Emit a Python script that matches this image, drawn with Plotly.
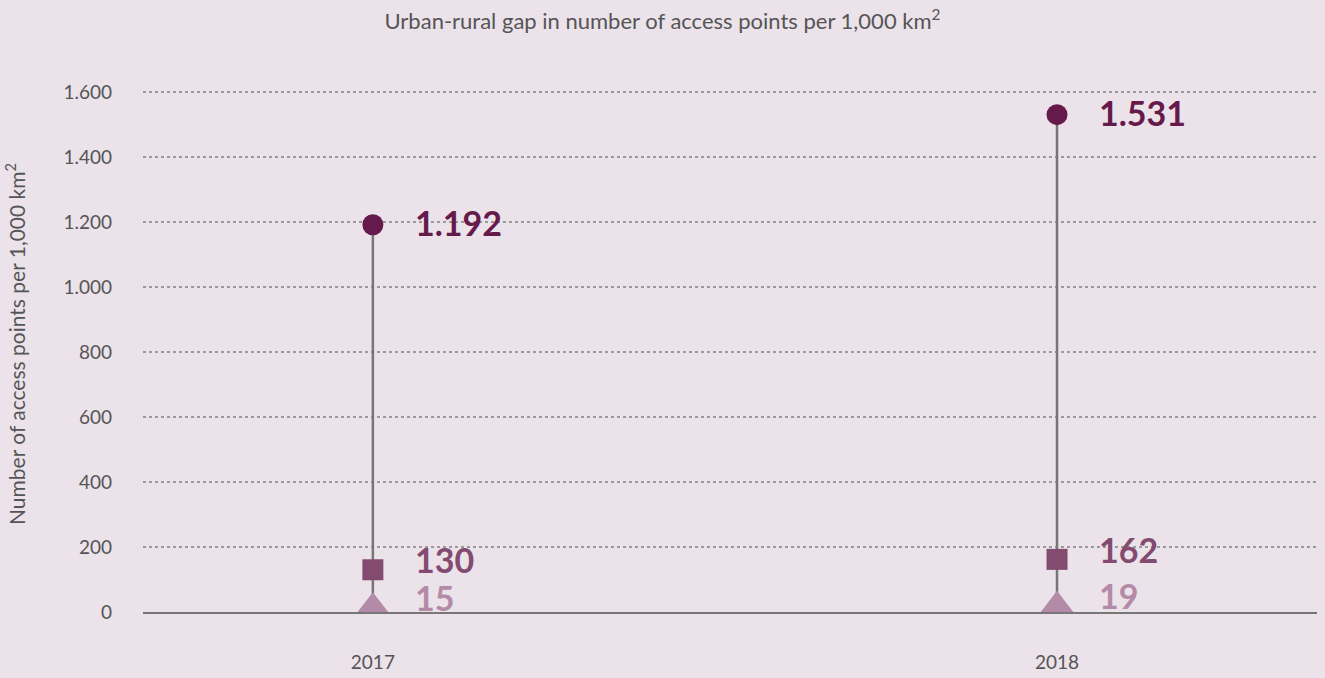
import plotly.graph_objects as go

# Access points per 1,000 km² by area type
years = ["2017", "2018"]
urban = [1192, 1531]
intermediate = [130, 162]
rural = [15, 19]

y_ticks = [0, 200, 400, 600, 800, 1000, 1200, 1400, 1600]

bg = "#ebe2ea"
c_urban = "#651a4b"
c_mid = "#834b6f"
c_rural = "#b38ba8"
grey_text = "#555555"
font_main = "Lato"


def fmt(v):
    return f"{v:,}".replace(",", ".")


fig = go.Figure()

# vertical stems joining lowest and highest value for each year
for yr, lo, hi in zip(years, rural, urban):
    fig.add_trace(go.Scatter(
        x=[yr, yr], y=[lo, hi], mode="lines",
        line=dict(color="#777777", width=2.5),
        hoverinfo="skip", showlegend=False,
    ))

series = [
    ("Urban", urban, c_urban, "circle", 21),
    ("Intermediate", intermediate, c_mid, "square", 21),
    ("Rural", rural, c_rural, "triangle-up", 30),
]
for name, vals, col, sym, size in series:
    fig.add_trace(go.Scatter(
        x=years, y=vals, mode="markers", name=name,
        marker=dict(symbol=sym, size=size, color=col, line=dict(width=0)),
        showlegend=False,
    ))

# value labels to the right of each marker (category index used for x)
label_shift = {"Urban": 2, "Intermediate": 10, "Rural": 10}
for name, vals, col, sym, size in series:
    for i, v in enumerate(vals):
        fig.add_annotation(
            x=i, y=v, xref="x", yref="y", text=f"<b>{fmt(v)}</b>", showarrow=False,
            xanchor="left", yanchor="middle", xshift=40, yshift=label_shift[name],
            font=dict(family=font_main, size=34, color=col),
        )

fig.update_layout(
    width=1325, height=678,
    paper_bgcolor=bg, plot_bgcolor=bg,
    margin=dict(l=143, r=8, t=76, b=66),
    separators=",.",
    title=dict(
        text="Urban-rural gap in number of access points per 1,000 km<sup>2</sup>",
        x=0.5, xanchor="center", y=0.98, yanchor="top",
        font=dict(family=font_main, size=22, color=grey_text),
    ),
    font=dict(family=font_main, color=grey_text),
)

fig.update_xaxes(
    type="category", range=[-0.336, 1.38], automargin=False,
    showgrid=False, zeroline=False,
    showline=True, linecolor="#777777", linewidth=2,
    ticks="", ticklabelstandoff=32, tickfont=dict(size=19, color=grey_text),
)
fig.update_yaxes(
    range=[0, 1650], tickvals=y_ticks, tickformat=",d", automargin=False,
    showgrid=True, gridcolor="#9a9a9a", griddash="dot", gridwidth=1.5,
    zeroline=False, showline=False, ticks="", ticklabelstandoff=30,
    tickfont=dict(size=19, color=grey_text),
    title=dict(text="Number of access points per 1,000 km<sup>2</sup>",
               font=dict(size=21, color=grey_text), standoff=32),
)

fig.write_html("out.html")
